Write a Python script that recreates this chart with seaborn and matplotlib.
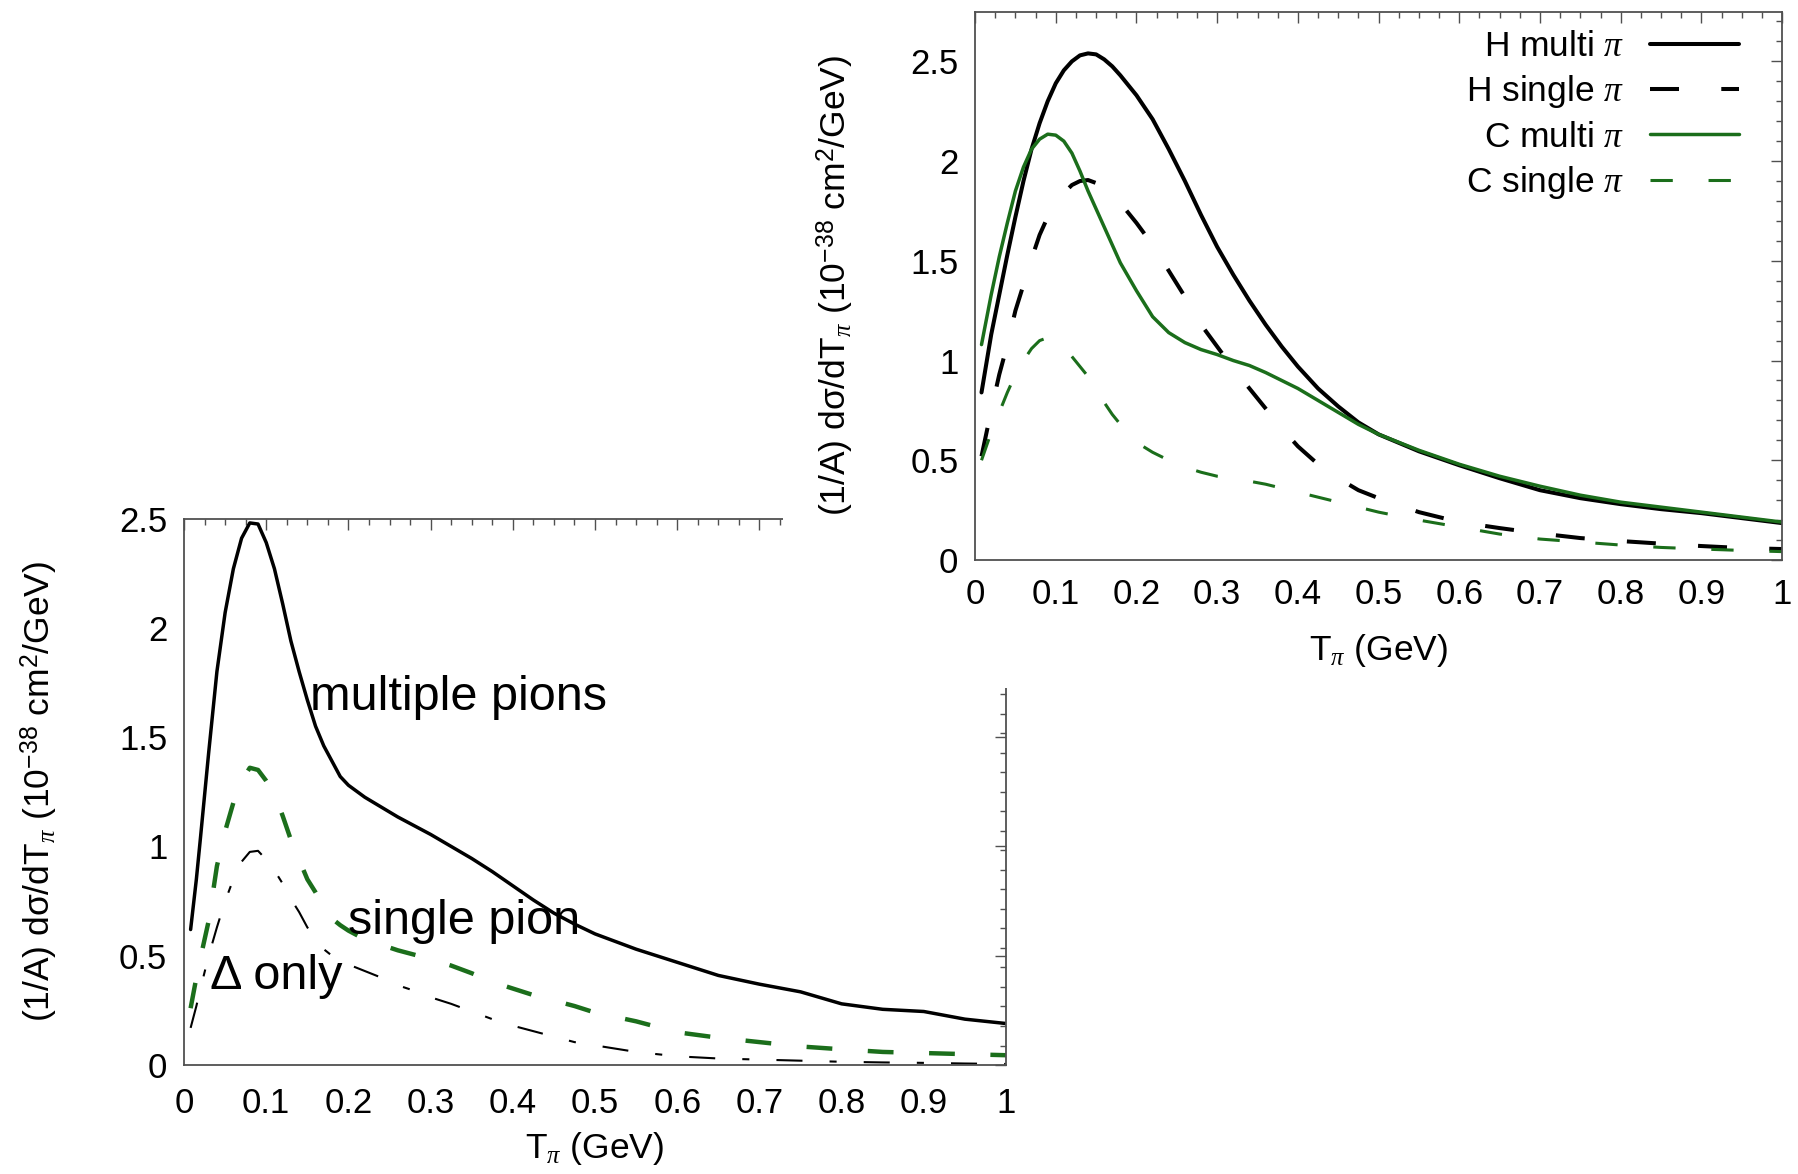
import numpy as np
import pandas as pd
import matplotlib
matplotlib.use("Agg")
import matplotlib.pyplot as plt
from matplotlib.ticker import MultipleLocator, FuncFormatter
from matplotlib.patches import Rectangle
import seaborn as sns

# ---------------- data: right panel (H vs C) ----------------
x_right = [0.008, 0.02, 0.03, 0.04, 0.05, 0.06, 0.07, 0.08, 0.09, 0.10,
           0.11, 0.12, 0.13, 0.14, 0.15, 0.16, 0.17, 0.18, 0.19, 0.20,
           0.22, 0.24, 0.26, 0.28, 0.30, 0.32, 0.34, 0.36, 0.38, 0.40,
           0.425, 0.45, 0.475, 0.50, 0.55, 0.60, 0.65, 0.70, 0.75, 0.80,
           0.85, 0.90, 0.95, 1.00]
h_multi = [0.84, 1.13, 1.33, 1.53, 1.72, 1.90, 2.06, 2.19, 2.30, 2.39,
           2.455, 2.50, 2.53, 2.54, 2.535, 2.51, 2.475, 2.43, 2.38, 2.33,
           2.21, 2.06, 1.90, 1.73, 1.57, 1.43, 1.30, 1.18, 1.07, 0.97,
           0.86, 0.77, 0.69, 0.63, 0.545, 0.475, 0.41, 0.35, 0.31, 0.28,
           0.255, 0.235, 0.21, 0.185]
h_single = [0.52, 0.75, 0.93, 1.08, 1.25, 1.38, 1.51, 1.63, 1.72, 1.79,
            1.84, 1.88, 1.90, 1.905, 1.89, 1.87, 1.83, 1.79, 1.74, 1.69,
            1.58, 1.45, 1.32, 1.18, 1.07, 0.96, 0.86, 0.76, 0.66, 0.57,
            0.48, 0.41, 0.35, 0.31, 0.24, 0.19, 0.16, 0.133, 0.11, 0.095,
            0.082, 0.07, 0.06, 0.055]
c_multi = [1.08, 1.33, 1.52, 1.69, 1.85, 1.97, 2.06, 2.11, 2.135, 2.13,
           2.10, 2.04, 1.95, 1.85, 1.76, 1.67, 1.58, 1.49, 1.42, 1.35,
           1.22, 1.14, 1.09, 1.055, 1.03, 1.00, 0.975, 0.94, 0.90, 0.86,
           0.80, 0.74, 0.68, 0.63, 0.55, 0.48, 0.42, 0.37, 0.325, 0.29,
           0.265, 0.24, 0.215, 0.19]
c_single = [0.50, 0.64, 0.74, 0.84, 0.93, 1.00, 1.06, 1.10, 1.115, 1.10,
            1.07, 1.02, 0.97, 0.92, 0.86, 0.79, 0.73, 0.68, 0.63, 0.59,
            0.54, 0.50, 0.465, 0.44, 0.42, 0.41, 0.395, 0.38, 0.36, 0.34,
            0.315, 0.29, 0.265, 0.24, 0.20, 0.165, 0.13, 0.105, 0.09, 0.075,
            0.063, 0.055, 0.048, 0.042]
right_labels = ["H multi $\\pi$", "H single $\\pi$", "C multi $\\pi$", "C single $\\pi$"]

# ---------------- data: left panel (C only) ----------------
x_left = [0.008, 0.015, 0.02, 0.03, 0.04, 0.05, 0.06, 0.07, 0.08, 0.09,
          0.10, 0.11, 0.12, 0.13, 0.14, 0.15, 0.16, 0.17, 0.18, 0.19,
          0.20, 0.22, 0.24, 0.26, 0.28, 0.30, 0.325, 0.35, 0.375, 0.40,
          0.425, 0.45, 0.475, 0.50, 0.55, 0.60, 0.65, 0.70, 0.75, 0.80,
          0.85, 0.90, 0.95, 1.00]
multi_pions = [0.62, 0.85, 1.04, 1.43, 1.80, 2.07, 2.27, 2.41, 2.48, 2.475,
               2.39, 2.27, 2.11, 1.94, 1.80, 1.67, 1.55, 1.46, 1.39, 1.32,
               1.28, 1.225, 1.18, 1.135, 1.095, 1.055, 1.00, 0.945, 0.885, 0.82,
               0.755, 0.695, 0.645, 0.60, 0.53, 0.47, 0.41, 0.37, 0.335, 0.28,
               0.255, 0.245, 0.21, 0.19]
single_pion = [0.26, 0.40, 0.49, 0.66, 0.91, 1.07, 1.20, 1.30, 1.36, 1.35,
               1.30, 1.24, 1.14, 1.03, 0.94, 0.85, 0.79, 0.72, 0.67, 0.64,
               0.615, 0.575, 0.55, 0.525, 0.505, 0.485, 0.455, 0.42, 0.38, 0.35,
               0.32, 0.295, 0.27, 0.24, 0.20, 0.15, 0.125, 0.105, 0.085, 0.072,
               0.06, 0.055, 0.05, 0.045]
delta_only = [0.17, 0.27, 0.35, 0.50, 0.63, 0.75, 0.85, 0.93, 0.975, 0.98,
              0.94, 0.89, 0.83, 0.76, 0.70, 0.63, 0.575, 0.53, 0.50, 0.475,
              0.46, 0.43, 0.40, 0.365, 0.34, 0.31, 0.28, 0.245, 0.21, 0.18,
              0.155, 0.13, 0.105, 0.09, 0.06, 0.04, 0.03, 0.025, 0.02, 0.015,
              0.012, 0.01, 0.007, 0.005]
left_annotations = ["multiple pions", "single pion", "\u0394 only"]

x_ticks = [0, 0.1, 0.2, 0.3, 0.4, 0.5, 0.6, 0.7, 0.8, 0.9, 1]
y_ticks = [0, 0.5, 1, 1.5, 2, 2.5]

# ---------------- style ----------------
sns.set_style("white")
plt.rcParams['font.family'] = ['Liberation Sans', 'DejaVu Sans']
plt.rcParams['mathtext.fontset'] = 'custom'
plt.rcParams['mathtext.rm'] = 'Liberation Sans'
plt.rcParams['mathtext.it'] = 'Liberation Serif:italic'
plt.rcParams['mathtext.bf'] = 'Liberation Sans:bold'
for k in ['text.color', 'axes.labelcolor', 'xtick.labelcolor', 'ytick.labelcolor']:
    plt.rcParams[k] = 'black'

GREEN = '#1b6e1b'
SPINE = '#505050'
TICK_FS = 25
LAB_FS = 25.5

fig = plt.figure(figsize=(17.99, 11.74), dpi=100)
fig.patch.set_facecolor('white')
axL = fig.add_axes([0.1023, 0.0928, 0.4569, 0.4655], zorder=0)
axR = fig.add_axes([0.5420, 0.5230, 0.4486, 0.4672], zorder=2)
# white backdrop of the pasted right panel that hides the left panel's corner
fig.add_artist(Rectangle((0.4355, 0.414), 0.6, 0.6, transform=fig.transFigure,
                         facecolor='white', edgecolor='none', zorder=1))

fmt = FuncFormatter(lambda v, p: f"{v:g}")
ylab = "(1/A) d\u03c3/dT$_{\\pi}$ (10$^{-38}$ cm$^{2}$/GeV)"
xlab = "T$_{\\pi}$ (GeV)"


def style_axes(ax, yminor, xpad, xlabpad, ylabpad):
    ax.set_facecolor('white')
    ax.set_xlim(0, 1)
    ax.set_xticks(x_ticks)
    ax.set_yticks(y_ticks)
    ax.xaxis.set_major_formatter(fmt)
    ax.yaxis.set_major_formatter(fmt)
    ax.xaxis.set_minor_locator(MultipleLocator(0.025))
    ax.yaxis.set_minor_locator(MultipleLocator(yminor))
    ax.tick_params(which='both', direction='in', top=True, right=True,
                   color=SPINE, width=1.0)
    ax.tick_params(which='major', length=8, labelsize=TICK_FS)
    ax.tick_params(which='minor', length=4.5)
    ax.tick_params(axis='x', which='major', pad=xpad)
    ax.tick_params(axis='y', which='major', pad=12)
    for s in ax.spines.values():
        s.set_color(SPINE)
        s.set_linewidth(1.3)
    ax.set_xlabel(xlab, fontsize=LAB_FS, labelpad=xlabpad)
    ax.set_ylabel(ylab, fontsize=LAB_FS, labelpad=ylabpad)


# ---------------- right panel ----------------
dfR = pd.DataFrame({"x": x_right, "hm": h_multi, "hs": h_single,
                    "cm": c_multi, "cs": c_single})
sns.lineplot(data=dfR, x="x", y="hm", ax=axR, color='black', linewidth=2.9,
             label=right_labels[0])
sns.lineplot(data=dfR, x="x", y="hs", ax=axR, color='black', linewidth=2.9,
             linestyle=(0, (7.2, 10.5)), label=right_labels[1])
sns.lineplot(data=dfR, x="x", y="cm", ax=axR, color=GREEN, linewidth=2.5,
             label=right_labels[2])
sns.lineplot(data=dfR, x="x", y="cs", ax=axR, color=GREEN, linewidth=2.2,
             linestyle=(0, (7.3, 11.7)), label=right_labels[3])
axR.set_ylim(0, 2.75)
style_axes(axR, 0.1, xpad=13, xlabpad=15, ylabpad=38)
h, l = axR.get_legend_handles_labels()
axR.legend(h, l, loc='upper right', bbox_to_anchor=(0.947, 0.966),
           markerfirst=False, frameon=False, fontsize=LAB_FS, handlelength=2.53,
           handletextpad=0.71, labelspacing=0.29, borderpad=0, borderaxespad=0)

# ---------------- left panel ----------------
dfL = pd.DataFrame({"x": x_left, "mp": multi_pions, "sp": single_pion,
                    "do": delta_only})
sns.lineplot(data=dfL, x="x", y="mp", ax=axL, color='black', linewidth=2.5)
sns.lineplot(data=dfL, x="x", y="sp", ax=axL, color=GREEN, linewidth=3.2,
             linestyle=(0, (5.8, 8.0)))
sns.lineplot(data=dfL, x="x", y="do", ax=axL, color='black', linewidth=1.5,
             linestyle=(0, (12.5, 13, 3.4, 13)))
axL.set_ylim(0, 2.5)
style_axes(axL, 2.5 / 28, xpad=16, xlabpad=7, ylabpad=42)
txt_fs = 35
axL.text(0.153, 1.68, left_annotations[0], fontsize=txt_fs, ha='left', va='center')
axL.text(0.199, 0.655, left_annotations[1], fontsize=txt_fs, ha='left', va='center')
axL.text(0.031, 0.405, left_annotations[2], fontsize=txt_fs, ha='left', va='center')

fig.savefig("out.png", dpi=100, facecolor='white')
